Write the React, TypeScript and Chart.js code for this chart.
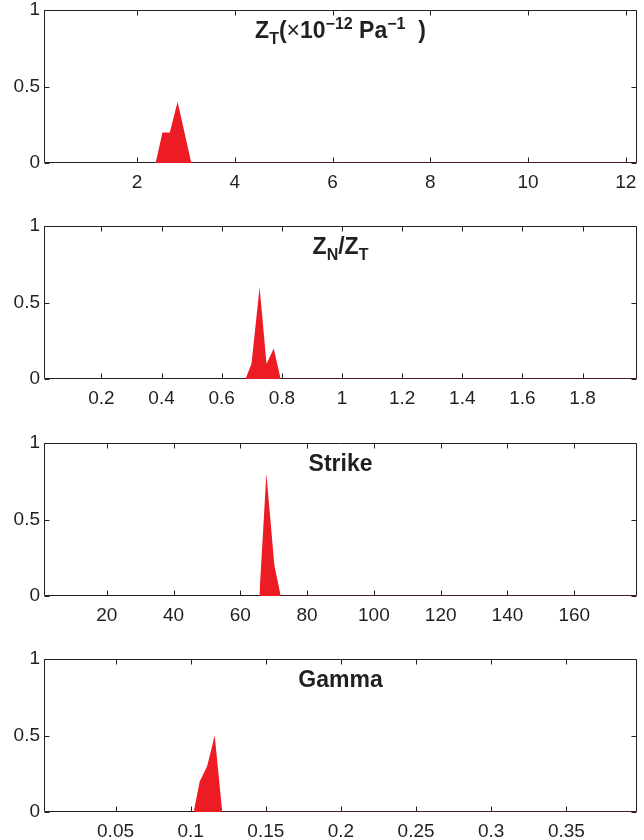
import React, { useEffect, useRef } from "react";
import Chart from "chart.js/auto";

// ---- data ----
const ztX = [2.38, 2.52, 2.67, 2.83, 3.11, 12.23];
const ztY = [0, 0.2, 0.2, 0.4, 0, 0];
const ratioX = [0.679, 0.699, 0.726, 0.749, 0.773, 0.796, 1.981];
const ratioY = [0, 0.1, 0.6, 0.1, 0.2, 0, 0];
const strikeX = [65.7, 67.8, 70.2, 72.1, 178.8];
const strikeY = [0, 0.8, 0.2, 0, 0];
const gammaX = [0.102, 0.106, 0.111, 0.116, 0.121, 0.397];
const gammaY = [0, 0.2, 0.3, 0.5, 0, 0];

const ztTicks = [2, 4, 6, 8, 10, 12];
const ztTickLabels = ["2", "4", "6", "8", "10", "12"];
const ratioTicks = [0.2, 0.4, 0.6, 0.8, 1, 1.2, 1.4, 1.6, 1.8];
const ratioTickLabels = ["0.2", "0.4", "0.6", "0.8", "1", "1.2", "1.4", "1.6", "1.8"];
const strikeTicks = [20, 40, 60, 80, 100, 120, 140, 160];
const strikeTickLabels = ["20", "40", "60", "80", "100", "120", "140", "160"];
const gammaTicks = [0.05, 0.1, 0.15, 0.2, 0.25, 0.3, 0.35];
const gammaTickLabels = ["0.05", "0.1", "0.15", "0.2", "0.25", "0.3", "0.35"];
const yTicks = [0, 0.5, 1];
const yTickLabels = ["0", "0.5", "1"];

type Seg = { t: string; k?: "sub" | "sup" | "thin" };
const ztTitle: Seg[] = [
  { t: "Z" }, { t: "T", k: "sub" }, { t: "(" }, { t: "×", k: "thin" }, { t: "10" }, { t: "−12", k: "sup" },
  { t: " Pa" }, { t: "−1", k: "sup" }, { t: "  )" },
];
const ratioTitle: Seg[] = [{ t: "Z" }, { t: "N", k: "sub" }, { t: "/Z" }, { t: "T", k: "sub" }];
const strikeTitle: Seg[] = [{ t: "Strike" }];
const gammaTitle: Seg[] = [{ t: "Gamma" }];

const panels = [
  { xs: ztX, ys: ztY, min: 0.096, max: 12.23, ticks: ztTicks, labels: ztTickLabels, title: ztTitle },
  { xs: ratioX, ys: ratioY, min: 0.009, max: 1.981, ticks: ratioTicks, labels: ratioTickLabels, title: ratioTitle },
  { xs: strikeX, ys: strikeY, min: 1.2, max: 178.8, ticks: strikeTicks, labels: strikeTickLabels, title: strikeTitle },
  { xs: gammaX, ys: gammaY, min: 0.0024, max: 0.397, ticks: gammaTicks, labels: gammaTickLabels, title: gammaTitle },
];
const panelTops = [0, 216, 433, 649];

const FONT = '"Liberation Sans", Arial, Helvetica, sans-serif';
const INK = "#231f20";
const RED = "#ED1C24";

function Panel({ p, top }: { p: (typeof panels)[number]; top: number }) {
  const ref = useRef<HTMLCanvasElement | null>(null);
  useEffect(() => {
    if (!ref.current) return;
    const boxPlugin = {
      id: "box",
      beforeDatasetsDraw(chart: any) {
        const { ctx, chartArea: a } = chart;
        const xs = chart.scales.x;
        const ys = chart.scales.y;
        ctx.save();
        ctx.strokeStyle = INK;
        ctx.lineWidth = 1;
        ctx.beginPath();
        const L = Math.round(a.left) + 0.5, R = Math.round(a.right) - 0.5;
        const T = Math.round(a.top) + 0.5, B = Math.round(a.bottom) - 0.5;
        ctx.rect(L, T, R - L, B - T);
        for (const v of p.ticks) {
          const px = Math.round(xs.getPixelForValue(v)) + 0.5;
          ctx.moveTo(px, B); ctx.lineTo(px, B - 5);
          ctx.moveTo(px, T); ctx.lineTo(px, T + 5);
        }
        for (const v of yTicks) {
          const py = Math.round(ys.getPixelForValue(v)) + 0.5;
          ctx.moveTo(L, py); ctx.lineTo(L + 5, py);
          ctx.moveTo(R, py); ctx.lineTo(R - 5, py);
        }
        ctx.stroke();
        ctx.restore();
      },
    };
    const titlePlugin = {
      id: "ptitle",
      afterDraw(chart: any) {
        const { ctx, chartArea: a } = chart;
        ctx.save();
        ctx.fillStyle = INK;
        ctx.textBaseline = "alphabetic";
        ctx.textAlign = "left";
        const fontFor = (s: Seg) =>
          s.k === "sub" || s.k === "sup"
            ? `bold 16px ${FONT}`
            : s.k === "thin"
            ? `normal 23px ${FONT}`
            : `bold 23px ${FONT}`;
        let w = 0;
        for (const s of p.title) {
          ctx.font = fontFor(s);
          w += ctx.measureText(s.t).width;
        }
        let x = (a.left + a.right) / 2 - w / 2;
        const base = a.top + 28;
        for (const s of p.title) {
          ctx.font = fontFor(s);
          const dy = s.k === "sub" ? 6 : s.k === "sup" ? -9 : 0;
          ctx.fillText(s.t, x, base + dy);
          x += ctx.measureText(s.t).width;
        }
        ctx.restore();
      },
    };
    const chart = new Chart(ref.current, {
      type: "line",
      data: {
        datasets: [
          {
            data: p.xs.map((x, i) => ({ x, y: p.ys[i] })),
            fill: "origin",
            backgroundColor: RED,
            borderWidth: 1,
            pointRadius: 0,
            tension: 0,
            segment: {
              borderColor: (c: any) =>
                c.p0.parsed.y === 0 && c.p1.parsed.y === 0 ? "#6a1d1d" : "rgba(0,0,0,0)",
            },
          } as any,
        ],
      },
      options: {
        animation: false,
        responsive: false,
        maintainAspectRatio: false,
        events: [],
        layout: { padding: { top: 10, right: 7, left: 0, bottom: 0 } },
        plugins: { legend: { display: false }, tooltip: { enabled: false }, title: { display: false } },
        scales: {
          x: {
            type: "linear",
            min: p.min,
            max: p.max,
            grid: { display: false, drawTicks: false },
            border: { display: false },
            afterBuildTicks: (s: any) => {
              s.ticks = p.ticks.map((v) => ({ value: v }));
            },
            afterFit: (s: any) => {
              s.height = 53;
              s.paddingLeft = 0;
              s.paddingRight = 0;
            },
            ticks: {
              callback: (_v: any, i: number) => p.labels[i],
              font: { family: FONT, size: 19 },
              color: INK,
              padding: 8,
              maxRotation: 0,
              autoSkip: false,
            },
          },
          y: {
            type: "linear",
            min: 0,
            max: 1,
            grid: { display: false, drawTicks: false },
            border: { display: false },
            afterBuildTicks: (s: any) => {
              s.ticks = yTicks.map((v) => ({ value: v }));
            },
            afterFit: (s: any) => {
              s.width = 44;
              s.paddingTop = 0;
              s.paddingBottom = 0;
            },
            ticks: {
              callback: (_v: any, i: number) => yTickLabels[i],
              font: { family: FONT, size: 19 },
              color: INK,
              padding: 4,
              autoSkip: false,
            },
          },
        },
      } as any,
      plugins: [boxPlugin, titlePlugin],
    });
    return () => chart.destroy();
  }, [p]);
  return (
    <canvas
      ref={ref}
      width={644}
      height={216}
      style={{ position: "absolute", left: 0, top, width: 644, height: 216 }}
    />
  );
}

export default function App() {
  return (
    <div style={{ position: "absolute", left: 0, top: 0, width: 644, height: 840, background: "#fff" }}>
      {panels.map((p, i) => (
        <Panel key={i} p={p} top={panelTops[i]} />
      ))}
    </div>
  );
}
